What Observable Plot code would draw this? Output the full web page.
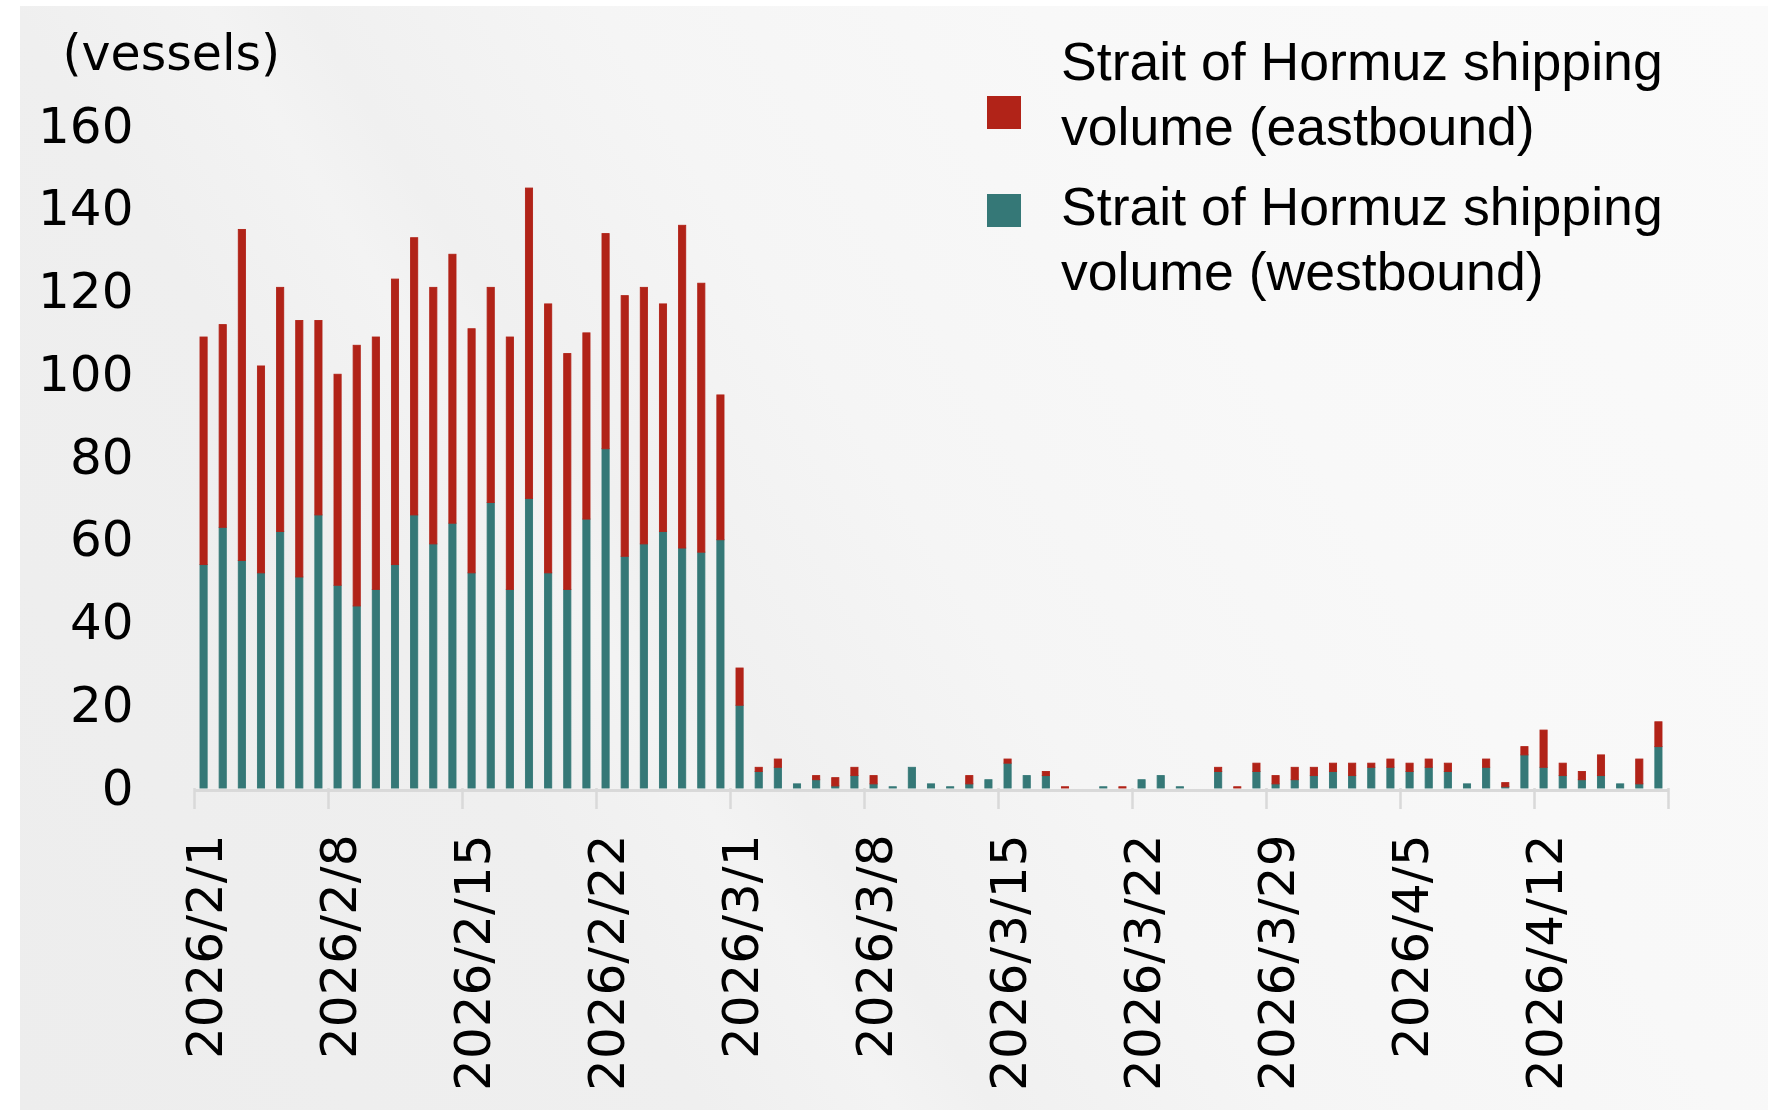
<!DOCTYPE html>
<html>
<head>
<meta charset="utf-8">
<script src="https://cdn.jsdelivr.net/npm/d3@7"></script>
<script src="https://cdn.jsdelivr.net/npm/@observablehq/plot@0.6"></script>
<style>
  html, body { margin: 0; padding: 0; background: #ffffff; }
  #wrap { position: relative; width: 1768px; height: 1110px; overflow: hidden; }
  #bg { position: absolute; left: 20px; top: 6px; right: 0; bottom: 0;
        background: linear-gradient(58deg, #ededed 0%, #efefef 28%, #f3f3f3 36%, #f0f0f0 40%, #f5f5f5 52%, #f8f8f8 70%, #fafafa 100%); }
  #chart { position: absolute; left: 0; top: 0; }
  .lg-swatch { position: absolute; width: 34px; height: 33px; }
  .lg-text { position: absolute; font-family: "Liberation Sans", Arial, sans-serif; font-size: 53.6px;
             line-height: 65px; color: #000; white-space: nowrap; }
</style>
</head>
<body>
<div id="wrap">
  <div id="bg"></div>
  <div id="chart"></div>
  <div id="legend"></div>
</div>
<script>
// ---- data ----
const firstDay = "2026/2/1";
const axisEnd = "2026/4/19";
const tickLabels = ["2026/2/1", "2026/2/8", "2026/2/15", "2026/2/22", "2026/3/1", "2026/3/8",
                    "2026/3/15", "2026/3/22", "2026/3/29", "2026/4/5", "2026/4/12"];
const yTicks = [0, 20, 40, 60, 80, 100, 120, 140, 160];
const yLabel = "(vessels)";
const seriesNames = ["Strait of Hormuz shipping volume (eastbound)",
                     "Strait of Hormuz shipping volume (westbound)"];
const seriesLines = [["Strait of Hormuz shipping", "volume (eastbound)"],
                     ["Strait of Hormuz shipping", "volume (westbound)"]];
const seriesColors = ["#b12318", "#357877"];

// daily vessels, 2026/2/1 .. 2026/4/18
const westbound = [
  54, 63, 55, 52, 62, 51, 66, 49, 44, 48, 54, 66, 59, 64, 52, 69, 48, 70, 52, 48, 65, 82, 56, 59, 62, 58, 57, 60,
  20, 4, 5, 1, 2, 0.5, 3, 1, 0.3, 5, 1, 0.3, 1, 2, 6, 3, 3, 0, 0, 0.3, 0, 2, 3, 0.3, 0, 4, 0, 4, 1, 2, 3,
  4, 3, 5, 5, 4, 5, 4, 1, 5, 0.3, 8, 5, 3, 2, 3, 1, 1, 10
];
const eastbound = [
  55, 49, 80, 50, 59, 62, 47, 51, 63, 61, 69, 67, 62, 65, 59, 52, 61, 75, 65, 57, 45, 52, 63, 62, 55, 78, 65, 35,
  9, 1, 2, 0, 1, 2, 2, 2, 0, 0, 0, 0, 2, 0, 1, 0, 1, 0.3, 0, 0, 0.3, 0, 0, 0, 0, 1, 0.3, 2, 2, 3, 2,
  2, 3, 1, 2, 2, 2, 2, 0, 2, 1, 2, 9, 3, 2, 5, 0, 6, 6
];

// ---- build table ----
const parseDay = s => { const [y, m, d] = s.split("/").map(Number); return new Date(Date.UTC(y, m - 1, d)); };
const start = parseDay(firstDay);
const end = parseDay(axisEnd);
const rows = [];
westbound.forEach((w, i) => {
  const x1 = d3.utcDay.offset(start, i), x2 = d3.utcDay.offset(start, i + 1);
  rows.push({x1, x2, value: w, series: seriesNames[1]});
  rows.push({x1, x2, value: eastbound[i], series: seriesNames[0]});
});
const tickDates = tickLabels.map(parseDay);
const labelOf = new Map(tickDates.map((d, i) => [+d, tickLabels[i]]));

const {x: _sx, y: _sy, ...stacked} = Plot.stackY({x: "x1", y: "value", fill: "series"});

const chart = Plot.plot({
  width: 1768,
  height: 1110,
  marginLeft: 194,
  marginRight: 100,
  marginTop: 126,
  marginBottom: 322,
  style: {background: "transparent", fontFamily: "'DejaVu Sans', sans-serif", color: "#000", overflow: "visible"},
  x: {type: "utc", domain: [start, end]},
  y: {domain: [0, 160]},
  color: {domain: seriesNames, range: seriesColors},
  marks: [
    Plot.rect(rows, {...stacked, x1: "x1", x2: "x2", insetLeft: 6, insetRight: 6,
                     stroke: d => d.value > 0 ? d.series : "none", strokeWidth: 0.9}),
    Plot.ruleY([0], {stroke: "#d9d9d9", strokeWidth: 3, dy: 2}),
    Plot.axisX({ticks: [...tickDates, end], tickSize: 21, stroke: "#d9d9d9", strokeWidth: 2.5,
                tickFormat: () => "", label: null}),
    Plot.axisX({ticks: tickDates, tickSize: 0, tickPadding: 46, tickRotate: -90,
                tickFormat: d => labelOf.get(+d), fontSize: 50, fill: "#000", dx: 11, label: null}),
    Plot.axisY({ticks: yTicks, tickSize: 0, tickPadding: 61, fontSize: 50, fill: "#000", label: null}),
    Plot.text([yLabel], {frameAnchor: "top-left", dx: -132, dy: -72, textAnchor: "start",
                         lineAnchor: "middle", fontSize: 49, fill: "#000"})
  ]
});
document.getElementById("chart").appendChild(chart);

// ---- legend ----
const legend = document.getElementById("legend");
const entryTops = [29, 174];
const swatchTops = [96, 194];
seriesNames.forEach((name, i) => {
  const sw = document.createElement("div");
  sw.className = "lg-swatch";
  sw.style.left = "987px";
  sw.style.top = swatchTops[i] + "px";
  sw.style.background = seriesColors[i];
  legend.appendChild(sw);
  const tx = document.createElement("div");
  tx.className = "lg-text";
  tx.style.left = "1061px";
  tx.style.top = entryTops[i] + "px";
  tx.innerHTML = seriesLines[i].join("<br>");
  legend.appendChild(tx);
});
</script>
</body>
</html>
